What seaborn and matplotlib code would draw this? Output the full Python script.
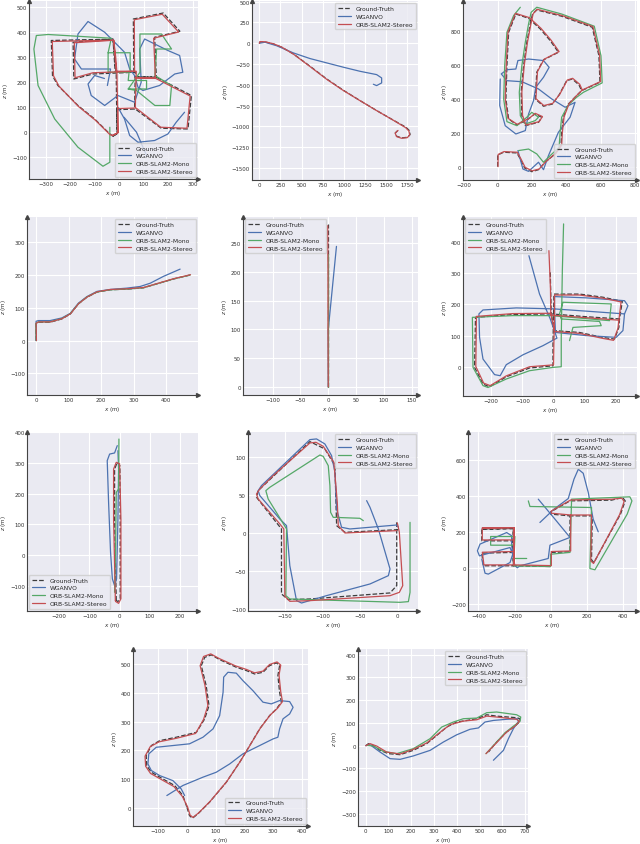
import matplotlib
matplotlib.use("Agg")
import matplotlib.pyplot as plt
import seaborn as sns

# ---------------- data (x, z in metres), each series = list of path segments ----------------
LABELS = ["Ground-Truth", "WGANVO", "ORB-SLAM2-Mono", "ORB-SLAM2-Stereo"]

# Panel 1
P1_GT = [[(-25,-16),(-8,-5),(-10,90),(-12,235),(-18,300),(-25,372),(-150,370),(-277,367),(-272,226),(-250,187),
          (-168,107),(-100,53),(-40,-5),(-25,-16),(-8,-5),(-10,90),(63,93),(66,240),(-107,233),(-185,213),(-188,360),
          (-25,372),(-16,240),(60,240),(58,453),(180,477),(248,404),(145,380),(152,220),(63,222),(152,220),(295,147),
          (281,13),(172,16),(66,93)]]
P1_WG = [[(-48,187),(-35,253),(-154,253),(-182,293),(-168,393),(-127,443),(-59,400),(22,320),(43,253),(63,227),(77,180),
          (97,167),(165,187),(227,233),(260,240),(247,307),(199,327),(104,373),(84,333),(90,200),(63,120),(-5,147),
          (-59,107),(-114,147),(-127,193),(-100,227),(-60,215)],
         [(-5,100),(22,53),(43,-13),(77,-40),(145,-33),(199,-7),(233,40),(267,80)],
         [(20,60),(71,0),(112,-93)]]
P1_MO = [[(-38,20),(-38,-120),(-66,-136),(-168,-60),(-263,53),(-331,187),(-348,333),(-338,387),(-290,391),(-32,376),
          (-45,318),(45,318),(45,240),(-45,240),(-45,318)],
         [(40,235),(37,207),(112,207),(112,173),(37,173),(85,240),(85,393),(173,393),(214,333),(153,333),(146,227),
          (214,187),(207,107),(146,107),(71,167),(37,173)]]
P1_ST = [[(-28,-13),(-5,-2),(-6,90),(-9,235),(-14,300),(-22,368),(-150,366),(-273,363),(-268,226),(-246,185),(-166,103),
          (-98,49),(-38,-9),(-28,-13),(-5,-2),(-6,95),(66,97),(70,244),(-107,238),(-180,218),(-183,358),(-22,368),
          (-12,244),(63,244),(62,450),(176,472),(243,401),(141,376),(148,216),(65,218),(148,216),(290,145),(277,16),
          (170,20),(69,97)]]
P1_XT = [-300, -200, -100, 0, 100, 200, 300]
P1_YT = [-100, 0, 100, 200, 300, 400, 500]

# Panel 2
P2_GT = [[(0,0),(8,16),(67,16),(166,-8),(264,-48),(402,-128),(599,-276),(796,-429),(993,-565),(1190,-689),(1387,-809),
          (1585,-925),(1734,-1010),(1774,-1050),(1782,-1098),(1754,-1130),(1683,-1138),(1624,-1118),(1608,-1078),(1636,-1050)]]
P2_WG = [[(0,0),(67,12),(205,-30),(402,-116),(599,-184),(796,-236),(993,-288),(1190,-337),(1387,-377),(1446,-417),
          (1446,-477),(1387,-509),(1348,-493)]]
P2_MO = []
P2_ST = [[(0,0),(8,20),(67,18),(166,-6),(264,-46),(402,-130),(599,-280),(796,-433),(993,-568),(1190,-690),(1387,-810),
          (1585,-926),(1730,-1015),(1768,-1055),(1778,-1100),(1750,-1135),(1680,-1142),(1622,-1122),(1606,-1080),(1640,-1048)]]
P2_XT = [0, 250, 500, 750, 1000, 1250, 1500, 1750]
P2_YT = [-1500, -1250, -1000, -750, -500, -250, 0, 250, 500]

# Panel 3
P3_GT = [[(0,0),(0,69),(35,85),(112,81),(132,45),(157,-8),(199,-30),(238,-18),(277,26),(335,75),(369,124),(373,203),
          (383,292),(412,370),(460,420),(489,449),(596,499),(590,656),(551,824),(373,889),(228,926),(203,902),(190,843),
          (170,735),(151,597),(137,439),(141,301),(161,242),(238,262),(257,292),(215,311),(180,282),(112,246),(64,282),
          (48,400),(54,597),(64,794),(106,902),(180,877),(248,814),(306,745),(354,676),(267,631),(228,558),(219,400),
          (267,357),(319,370),(358,424),(402,508),(435,518),(474,483),(489,449)]]
P3_WG = [[(118,95),(147,-14),(180,-28),(238,26),(267,-18),(296,65),(354,203),(422,292),(451,380),(393,351),(315,400),
          (238,459),(141,502),(54,508),(21,548),(54,573),(106,577),(118,627),(180,636),(267,627),(300,587),(267,528),
          (222,469),(209,390),(180,311),(161,213),(106,193),(44,242),(12,361),(15,518)]]
P3_MO = [[(122,95),(180,104),(228,75),(267,26),(306,65),(358,114),(364,203),(373,292),(412,365),(460,410),(499,439),
          (609,495),(602,656),(563,830),(373,902),(228,942),(195,912),(180,843),(161,735),(141,597),(126,439),(132,301),
          (161,252),(219,272),(238,292),(199,321),(170,292),(112,242),(54,266),(35,400),(41,597),(54,794),(93,893),(132,942)]]
P3_ST = [[(2,0),(3,72),(37,89),(114,85),(136,45),(160,-4),(201,-25),(242,-14),(281,30),(339,79),(373,128),(377,203),
          (387,294),(416,372),(464,424),(493,453),(600,503),(594,658),(555,828),(375,893),(230,930),(207,904),(194,845),
          (174,737),(155,599),(141,441),(145,303),(165,246),(242,266),(261,296),(219,315),(184,286),(114,250),(60,286),
          (44,402),(50,599),(60,796),(104,906),(184,881),(252,818),(310,749),(358,680),(271,635),(232,562),(223,402),
          (269,361),(321,374),(362,428),(406,512),(437,522),(478,487),(493,453)]]
P3_XT = [-200, 0, 200, 400, 600, 800]
P3_YT = [0, 200, 400, 600, 800]

# Panel 4
P4_GT = [[(0,0),(-1,51),(7,56),(43,56),(79,66),(105,81),(130,112),(156,132),(187,148),(228,155),(279,157),(330,161),
          (371,173),(423,188),(474,200)]]
P4_WG = [[(0,0),(0,59),(7,61),(43,61),(79,69),(105,83),(130,114),(156,134),(187,150),(228,156),(279,160),(320,165),
          (351,175),(392,196),(443,218)]]
P4_MO = [[(0,0),(-1,52),(7,57),(43,57),(79,67),(105,82),(130,112),(156,133),(187,148),(228,155),(279,157),(330,161),
          (371,173),(423,188),(474,200)]]
P4_ST = [[(1,0),(0,53),(8,57),(44,57),(80,67),(106,82),(131,113),(157,133),(188,149),(229,156),(280,158),(331,162),
          (372,174),(424,189),(475,201)]]
P4_XT = [0, 100, 200, 300, 400]
P4_YT = [-100, 0, 100, 200, 300]

# Panel 5
P5_GT = [[(0,0),(0,100),(0,200),(0,282)]]
P5_WG = [[(0,0),(0,100),(14.7,244)]]
P5_MO = [[(0,0),(0,120),(0,230)]]
P5_ST = [[(0,0),(-0.5,100),(-0.5,200),(-1,280)]]
P5_XT = [-100, -50, 0, 50, 100, 150]
P5_YT = [0, 50, 100, 150, 200, 250]

# Panel 6
P6_GT = [[(-10.7,302),(-7.5,170),(104.5,161),(211,154),(220,210),(158,223),(83,233),(1,233),(0,170),(-2,74),(-2,5),
          (-77,-2),(-151.5,-30),(-205,-62),(-226,-53),(-253,0),(-250,159),(-130,168),(-7.5,170),(1,117),(83,111),
          (158,95),(195,90),(209,127),(211,154)]]
P6_WG = [[(-79,355),(-45,233),(-10.7,154),(10.7,93),(-34,69),(-98,40),(-151.5,8.5),(-171,-26.5),(-189,-23),(-226,26.5),
          (-237,95.5),(-239,170),(-226,182.5),(-119.5,189),(0,186),(115,178),(227,170),(238,196),(227,212),(104.5,221),
          (3,225),(3,180),(6,111),(104.5,101),(200.5,95.5),(222,117),(227,170)]]
P6_MO = [[(32,456),(28,308),(24.5,95.5),(24.5,2),(-2,0),(-77,-10.6),(-151.5,-37),(-210,-64),(-226,-58),(-258,0),
          (-260,159),(-130,164.5),(-7.5,164.5),(115,154),(179,148.5),(184.5,201.6),(30,207),(19,170),(24.5,154),
          (147,146),(152.5,132.6),(62,127),(51,85)]]
P6_ST = [[(-15,371),(-10,250),(-9,166),(104,158),(209,150),(216,208),(158,220),(83,230),(3,230),(3,170),(1,74),(0,8),
          (-77,2),(-151.5,-27),(-203,-58),(-224,-50),(-249,3),(-247,162),(-130,171),(-9,172),(3,114),(83,108),
          (158,92),(192,86),(206,124),(209,150)]]
P6_XT = [-200, -100, 0, 100, 200]
P6_YT = [0, 100, 200, 300, 400]

# Panel 7
P7_GT = [[(-11,-149),(-16.6,117),(-16.6,280),(-7.7,302),(1,291),(2,117),(2,-143),(-5.5,-152),(-11,-149)]]
P7_WG = [[(-7.7,356.5),(-16.6,332.6),(-33,329),(-41,307.6),(-36.5,172),(-30,9),(-24,-78),(-16.6,-100),(-10,-78),
          (-5.5,117),(-3.3,280),(-5.5,340)]]
P7_MO = [[(-16.6,-122),(-13.3,9),(-11,204),(-3.3,215),(-2.2,378)]]
P7_ST = [[(-14,-149),(-19.9,117),(-19.9,280),(-11,302),(0,297),(4.4,117),(4.4,-143),(-3.3,-158),(-13,-152),(-14,-149)]]
P7_XT = [-200, -100, 0, 100, 200]
P7_YT = [-100, 0, 100, 200, 300, 400]

# Panel 8
P8_GT = [[(-1.3,14.4),(-1.3,-68.7),(-10.2,-78.3),(-116.7,-86.2),(-145.6,-87.1),(-154.5,-79.6),(-154.5,5.7),
          (-187.7,47.3),(-185.5,56),(-116.7,120.4),(-96.8,110.7),(-83.4,88.8),(-81.2,10),(-70.1,1.3),(0.9,4.8)]]
P8_WG = [[(-41.3,42.9),(-36.8,34.1),(-25.7,5.7),(-10.2,-46.8),(-12.4,-55.6),(-36.8,-66.5),(-94.5,-81.8),(-127.8,-91.5),
          (-134.5,-88.4),(-143.4,-42.5),(-147.8,10),(-156.7,18.8),(-183.3,49.5),(-185.5,56),(-181.1,62.6),(-116.7,123),
          (-107.9,123.9),(-96.8,117.3),(-87.9,102),(-83.4,80),(-81.2,32),(-74.6,7.9),(-63.5,5.7),(-1.3,10.9),(0.9,7.9)]]
P8_MO = [[(16.4,14.4),(16.4,-77.5),(14.2,-89.7),(3.1,-90.6),(-72.3,-88.4),(-143.4,-86.2),(-148.7,-81.8),(-147.8,5.7),
          (-154.5,16.6),(-172.2,45.1),(-175.3,56),(-170,60.4),(-103.4,102.8),(-99,101),(-92.3,88.8),(-90.1,62.6),
          (-89.2,27.6),(-85.7,21),(-50.2,19.7),(-45.7,16.6)]]
P8_ST = [[(-0.4,13.6),(2.2,1.3),(6.7,-68.7),(2.2,-77.5),(-10.2,-81.9),(-116.7,-88.4),(-143.4,-89.3),(-150,-82.7),
          (-151.4,5.7),(-156.7,12.3),(-185.5,45.1),(-187.7,51.6),(-183.3,58.2),(-165.6,75.7),(-116.7,118.6),(-108.7,119.5),
          (-99,114.2),(-84.8,93.2),(-80.3,40.7),(-79,10),(-70.1,0.4),(-1.3,3.5)]]
P8_XT = [-150, -100, -50, 0]
P8_YT = [-100, -50, 0, 50, 100]

# Panel 9
P9_GT = [[(-381,216),(-207,219),(-207,13),(-372,13),(-381,83),(-207,87),(-210,151),(-381,151),(-381,216),(-207,219),
          (-207,13),(-1,9),(-1,87),(106,90),(106,289),(-1,299),(-1,311),(106,372),(335,376),(396,391),(411,372),
          (385,299),(238,31),(225,46),(229,289),(106,289)]]
P9_WG = [[(262,201),(234,271),(207,418),(179,525),(152,547),(128,492),(96.5,385),(17.5,326),(-60,252.5)],
         [(-69,381.5),(23,271),(106,170),(-4.6,127),(-14,53.5),(-170,13),(-185,2),(-198,13),(-216,123.5),(-216,179),
          (-243.6,197),(-390.6,133),(-405,96),(-394,68),(-225,114),(-210,77),(-225,31),(-345,-33),(-363,-28),(-381,50)]]
P9_MO = [[(-133,53.5),(-203,53.5),(-198,175),(-332,175),(-332,127),(-207,127)],
         [(-207,13),(-1,9),(-1,77),(106,87),(115,381.5),(436.6,394.5),(448,372),(422,299),(243.6,-9),(216,-2),
          (225,335.5),(-115,341),(-124,372)]]
P9_ST = [[(-378,222),(-203,224),(-203,18),(-369,18),(-378,88),(-203,92),(-206,156),(-378,156),(-378,222),(-203,224),
          (-203,18),(3,14),(3,92),(110,95),(110,294),(3,304),(3,316),(110,377),(335,381),(392,387),(405,369),
          (380,296),(236,26),(221,40),(225,294),(110,294)]]
P9_XT = [-400, -200, 0, 200, 400]
P9_YT = [-200, 0, 200, 400, 600]

# Panel 10
P10_GT = [[(0,2),(9,-27),(19,-36),(38,-21),(79,20),(137,89),(184,159),(219,217),(253.5,275),(288,321),(312,344.5),
           (329,368),(323,402.5),(317,460.5),(323,495),(312,504.6),(288,495),(265,472),(236,466),(207,478),(172,489.5),
           (114,516),(85,532.5),(62,524),(50,495),(67,426),(77,356),(62,310),(33,263),(-37,246),(-95,234),(-124,217),
           (-142,182),(-140,147),(-124,124),(-84,101),(-43,78),(-14,43),(0,2)]]
P10_WG = [[(-70,43),(-14,78),(56,107),(102,124),(149,153),(195,188),(253.5,217),(300,240),(317,246),(323,275),(335,310),
           (358,327),(370,350),(358,370),(323,373.5),(294,362),(265,368),(230,408),(195,443),(172,469),(143,472),
           (128,455),(126,402.5),(114,321),(91,275),(56,246),(9,223),(-49,217),(-107,211),(-133,188),(-136,153),
           (-124,130),(-95,112.5),(-49,95),(-20,66),(-8,43)]]
P10_MO = []
P10_ST = [[(2,4),(11,-25),(21,-33),(40,-18),(81,23),(139,92),(186,162),(221,220),(256,278),(291,324),(316,347),
           (333,370),(327,404),(321,462),(327,497),(314,508),(288,499),(265,476),(236,470),(207,482),(170,494),
           (112,520),(83,536),(58,527),(46,495),(63,426),(73,356),(58,308),(30,259),(-38,242),(-97,230),(-128,213),
           (-146,180),(-144,145),(-127,120),(-86,97),(-45,74),(-16,40),(2,4)]]
P10_XT = [-100, 0, 100, 200, 300, 400]
P10_YT = [0, 100, 200, 300, 400, 500]

# Panel 11
P11_GT = [[(0,0),(12,9),(26,4),(63,-20.5),(100,-35),(151,-39.5),(209,-20.5),(268,9),(312,45),(356,82),(400,104),
           (444,111),(488,118.6),(531.5,136),(575,130),(663,123),(678,118.6),(675,104),(656,86),(619,60),(575,16),(539,-28)]]
P11_WG = [[(0,0),(19,4),(63,-28),(107,-57),(151,-60),(209,-45),(283,-20.5),(341,16),(400,48),(458,72),(495,78),
           (524,104),(561,111),(619,116),(666,118.6),(671,107),(649,75),(627,31),(605,-20.5),(561,-64)]]
P11_MO = [[(4,1.5),(34,-1.5),(78,-25),(136,-35),(209,-13),(283,31),(334,82),(385,104),(429,118.6),(488,121.5),
           (531.5,145),(575,148),(663,136),(681,126),(678,107),(649,86),(612,57),(575,16),(528.5,-35)]]
P11_ST = [[(0,0),(19,9),(48,-1.5),(92,-28),(151,-36.6),(209,-16),(268,12),(319,53),(370,92),(429,108),(488,114),
           (531.5,130),(575,126),(663,116),(675,107),(656,86),(619,60),(575,13),(528.5,-35)]]
P11_XT = [0, 100, 200, 300, 400, 500, 600, 700]
P11_YT = [-300, -200, -100, 0, 100, 200, 300, 400]

# ---------------- layout (pixel boxes: left, top, right, bottom) ----------------
W, H = 640, 845
PANELS = [
    dict(box=(29, 2, 198, 180), xlim=(-368, 322), ylim=(-187, 525), xt=P1_XT, yt=P1_YT, loc="lower right",
         series=(P1_GT, P1_WG, P1_MO, P1_ST)),
    dict(box=(252, 2, 418, 181), xlim=(-87, 1876), ylim=(-1644, 508), xt=P2_XT, yt=P2_YT, loc="upper right",
         series=(P2_GT, P2_WG, P2_MO, P2_ST)),
    dict(box=(463, 2, 637, 181), xlim=(-202, 812), ylim=(-79, 979), xt=P3_XT, yt=P3_YT, loc="lower right",
         series=(P3_GT, P3_WG, P3_MO, P3_ST)),
    dict(box=(27, 218, 198, 396), xlim=(-28, 498), ylim=(-166, 377), xt=P4_XT, yt=P4_YT, loc="upper right",
         series=(P4_GT, P4_WG, P4_MO, P4_ST)),
    dict(box=(243, 218, 418, 396), xlim=(-153, 161), ylim=(-14, 295), xt=P5_XT, yt=P5_YT, loc="upper left",
         series=(P5_GT, P5_WG, P5_MO, P5_ST)),
    dict(box=(463, 218, 637, 397), xlim=(-290, 267), ylim=(-91, 478), xt=P6_XT, yt=P6_YT, loc="upper left",
         series=(P6_GT, P6_WG, P6_MO, P6_ST)),
    dict(box=(27, 433, 198, 612), xlim=(-307, 260), ylim=(-183, 401), xt=P7_XT, yt=P7_YT, loc="lower left",
         series=(P7_GT, P7_WG, P7_MO, P7_ST)),
    dict(box=(248, 433, 418, 612), xlim=(-199, 27), ylim=(-102, 133), xt=P8_XT, yt=P8_YT, loc="upper right",
         series=(P8_GT, P8_WG, P8_MO, P8_ST)),
    dict(box=(468, 433, 637, 612), xlim=(-457, 476), ylim=(-237, 753), xt=P9_XT, yt=P9_YT, loc="upper right",
         series=(P9_GT, P9_WG, P9_MO, P9_ST)),
    dict(box=(133, 650, 308, 827), xlim=(-188, 422), ylim=(-63, 553), xt=P10_XT, yt=P10_YT, loc="lower right",
         series=(P10_GT, P10_WG, P10_MO, P10_ST)),
    dict(box=(358, 650, 528, 827), xlim=(-34, 713), ylim=(-353, 425), xt=P11_XT, yt=P11_YT, loc="upper right",
         series=(P11_GT, P11_WG, P11_MO, P11_ST)),
]

COLORS = ["#3d3d3d", "#4C72B0", "#55A868", "#C44E52"]
STYLES = ["--", "-", "-", "-"]
AXCOL = "#444444"

sns.set_theme(style="darkgrid")
plt.rcParams["font.family"] = ["DejaVu Sans"]
plt.rcParams["grid.linewidth"] = 0.8

fig = plt.figure(figsize=(W / 100, H / 100), dpi=100)

for p in PANELS:
    l, t, r, b = p["box"]
    ax = fig.add_axes([l / W, 1 - b / H, (r - l) / W, (b - t) / H])
    for k, segs in enumerate(p["series"]):
        for i, seg in enumerate(segs):
            xs = [pt[0] for pt in seg]
            ys = [pt[1] for pt in seg]
            kw = dict(label=LABELS[k]) if i == 0 else {}
            sns.lineplot(x=xs, y=ys, sort=False, estimator=None, color=COLORS[k], linewidth=0.9,
                         linestyle=STYLES[k], ax=ax, **kw)
    ax.set_xlim(*p["xlim"])
    ax.set_ylim(*p["ylim"])
    ax.set_xticks(p["xt"])
    ax.set_yticks(p["yt"])
    ax.tick_params(labelsize=3.9, pad=1.5, length=0, colors="#333333")
    ax.set_xlabel("$x$ (m)", fontsize=4.1, labelpad=1.2, color="#333333")
    ax.set_ylabel("$z$ (m)", fontsize=4.1, labelpad=1.2, color="#333333")
    for side in ("left", "bottom"):
        ax.spines[side].set_visible(True)
        ax.spines[side].set_color(AXCOL)
        ax.spines[side].set_linewidth(0.8)
    for side in ("right", "top"):
        ax.spines[side].set_visible(False)
    ax.plot(1, 0, ">", color=AXCOL, ms=2.8, transform=ax.transAxes, clip_on=False)
    ax.plot(0, 1, "^", color=AXCOL, ms=2.8, transform=ax.transAxes, clip_on=False)
    handles, labels = ax.get_legend_handles_labels()
    ax.legend(handles, labels, loc=p["loc"], fontsize=4.3, handlelength=2.2, borderpad=0.45,
              labelspacing=0.45, borderaxespad=0.35, framealpha=0.8, edgecolor="0.8",
              facecolor="#EAEAF2", fancybox=True)

fig.savefig("out.png", dpi=100)
